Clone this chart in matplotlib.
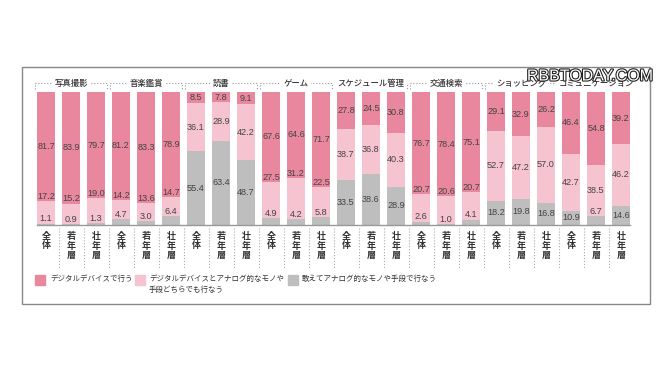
import matplotlib as mlp
mlp.use('Agg')
import matplotlib.pyplot as plt
import matplotlib.patheffects as pe
from matplotlib.patches import Rectangle

plt.rcParams['font.family'] = ['Noto Sans CJK JP', 'DejaVu Sans']

categories = ['写真撮影', '音楽鑑賞', '読書', 'ゲーム', 'スケジュール管理',
              '交通検索', 'ショッピング', 'コミュニケーション']
ages = ['全体', '若年層', '壮年層']
digital = [81.7, 83.9, 79.7, 81.2, 83.3, 78.9, 8.5, 7.8, 9.1, 67.6, 64.6, 71.7,
           27.8, 24.5, 30.8, 76.7, 78.4, 75.1, 29.1, 32.9, 26.2, 46.4, 54.8, 39.2]
both = [17.2, 15.2, 19.0, 14.2, 13.6, 14.7, 36.1, 28.9, 42.2, 27.5, 31.2, 22.5,
        38.7, 36.8, 40.3, 20.7, 20.6, 20.7, 52.7, 47.2, 57.0, 42.7, 38.5, 46.2]
analog = [1.1, 0.9, 1.3, 4.7, 3.0, 6.4, 55.4, 63.4, 48.7, 4.9, 4.2, 5.8,
          33.5, 38.6, 28.9, 2.6, 1.0, 4.1, 18.2, 19.8, 16.8, 10.9, 6.7, 14.6]
legend_labels = ['デジタルデバイスで行う',
                 'デジタルデバイスとアナログ的なモノや\n手段どちらでも行なう',
                 '敢えてアナログ的なモノや手段で行なう']

c_dig = '#E9879F'
c_both = '#F6C3D1'
c_ana = '#BEBEBE'
txt = '#444444'

W, H = 670, 377
fig = plt.figure(figsize=(W / 100, H / 100), dpi=100)


def fx(px):
    return px / W


def fy(py):
    return 1 - py / H


# outer frame
fig.patches.append(Rectangle((fx(22), fy(304)), fx(650) - fx(22), fy(67) - fy(304),
                             transform=fig.transFigure, fill=False,
                             edgecolor='#888888', lw=1))

ax = fig.add_axes([fx(33.5), fy(225), fx(600), 133 / H])
n = len(digital)
x = list(range(n))
ax.bar(x, analog, width=0.72, color=c_ana)
ax.bar(x, both, width=0.72, bottom=analog, color=c_both)
bot2 = [a + b for a, b in zip(analog, both)]
ax.bar(x, digital, width=0.72, bottom=bot2, color=c_dig)
ax.set_xlim(-0.5, n - 0.5)
ax.set_ylim(0, 100)
ax.axis('off')
ax.plot([-0.36, n - 0.64], [0, 0], color='#999999', lw=1, clip_on=False)

num_font = dict(family='Liberation Sans', fontsize=6.6, color=txt,
                ha='center', va='center')
for i in x:
    a, b, d = analog[i], both[i], digital[i]
    floated = a < 8
    ya = a + 3.5 if floated else a / 2
    yb = a + b + 3.5 if (floated and b < 33) else a + b / 2
    yd = a + b + d / 2
    ax.text(i, ya, f'{a:.1f}', **num_font)
    ax.text(i, yb, f'{b:.1f}', **num_font)
    ax.text(i, yd, f'{d:.1f}', **num_font)

    # vertical x labels
    lab = ages[i % 3]
    ax.text(i, -0.05, '\n'.join(lab), transform=ax.get_xaxis_transform(),
            ha='center', va='top', fontsize=6.5, color='#333333',
            linespacing=1.1, fontweight='bold')
    if i < n - 1:
        ax.plot([i + 0.5, i + 0.5], [-0.02, -0.33], transform=ax.get_xaxis_transform(),
                color='#aaaaaa', ls=':', lw=0.8, clip_on=False)

# group brackets
for g, cat in enumerate(categories):
    l, r = 3 * g - 0.45, 3 * g + 2.45
    tr = ax.get_xaxis_transform()
    ax.plot([l, l, r, r], [1.02, 1.065, 1.065, 1.02], transform=tr,
            color='#999999', ls=':', lw=0.8, clip_on=False)
    ax.text(3 * g + 1, 1.065, cat, transform=tr, ha='center', va='center',
            fontsize=6, color='#333333', fontweight='medium',
            bbox=dict(boxstyle='square,pad=0.25', fc='white', ec='none'))

# legend
leg = [(35, c_dig, 50), (135, c_both, 149), (288, c_ana, 302)]
for (sx, col, tx), lab in zip(leg, legend_labels):
    fig.patches.append(Rectangle((fx(sx), fy(285)), fx(10), 10 / H,
                                 transform=fig.transFigure, color=col))
    fig.text(fx(tx), fy(275), lab, ha='left', va='top', fontsize=5.4,
             color='#333333', linespacing=1.5)

# watermark
wm = fig.text(fx(590), fy(76), 'RBBTODAY.COM', ha='center', va='center',
              family='Liberation Sans', fontsize=11.5, color='white')
wm.set_path_effects([pe.withStroke(linewidth=1.6, foreground='#222222')])

plt.savefig('out.png', dpi=100, facecolor='white')
